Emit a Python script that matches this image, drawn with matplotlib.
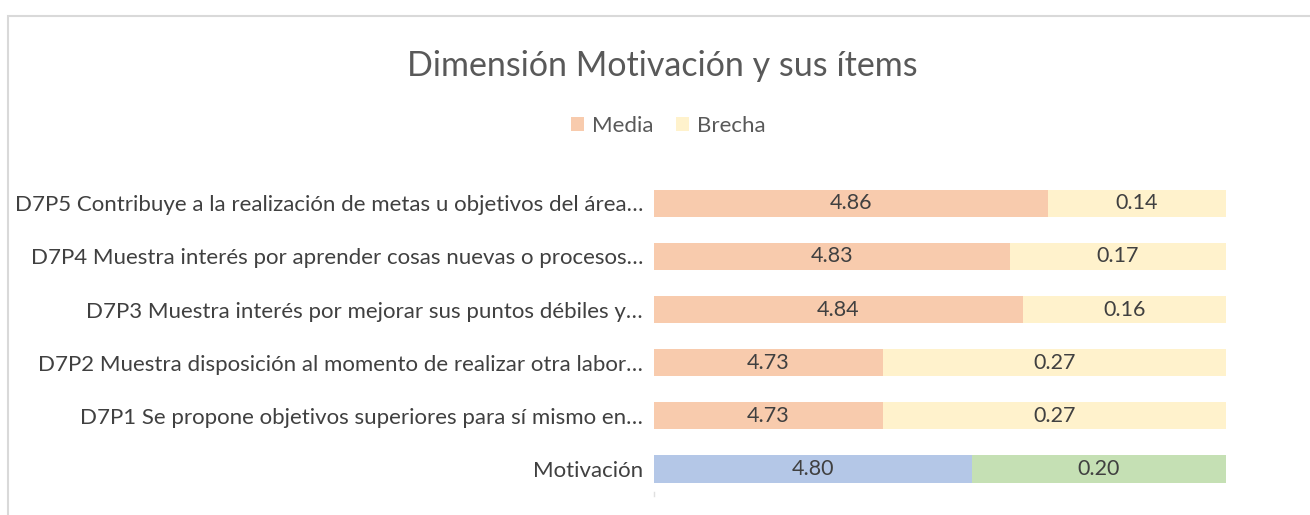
import matplotlib
matplotlib.use("Agg")
import matplotlib.pyplot as plt
from matplotlib.patches import Rectangle, Patch

# Data
categories = [
    "Motivación",
    "D7P1 Se propone objetivos superiores para sí mismo en…",
    "D7P2 Muestra disposición al momento de realizar otra labor…",
    "D7P3 Muestra interés por mejorar sus puntos débiles y…",
    "D7P4 Muestra interés por aprender cosas nuevas o procesos…",
    "D7P5 Contribuye a la realización de metas u objetivos del área…",
]
media = [4.80, 4.73, 4.73, 4.84, 4.83, 4.86]
brecha = [0.20, 0.27, 0.27, 0.16, 0.17, 0.14]
media_labels = ["4.80", "4.73", "4.73", "4.84", "4.83", "4.86"]
brecha_labels = ["0.20", "0.27", "0.27", "0.16", "0.17", "0.14"]

title = "Dimensión Motivación y sus ítems"
series_names = ["Media", "Brecha"]

c_media = "#F8CBAD"
c_brecha = "#FFF2CC"
c_media_total = "#B4C7E7"
c_brecha_total = "#C5E0B4"
text_col = "#404040"

plt.rcParams["font.family"] = ["Lato", "DejaVu Sans"]

W, H = 1310, 515
fig = plt.figure(figsize=(W / 100, H / 100), dpi=100)

# chart border
fig.patches.append(Rectangle((8 / W, -0.1), 1.2, 1 - 16 / H + 0.1, transform=fig.transFigure,
                             fill=False, edgecolor="#D9D9D9", linewidth=1.5))

ax_left, ax_right = 654, 1226
ax_top, ax_bot = 176.7, 495.6
ax = fig.add_axes([ax_left / W, 1 - ax_bot / H, (ax_right - ax_left) / W, (ax_bot - ax_top) / H])

xmin = 4.55
y = list(range(len(categories)))
left_base = [xmin] * len(categories)
mcols = [c_media_total] + [c_media] * (len(categories) - 1)
bcols = [c_brecha_total] + [c_brecha] * (len(categories) - 1)
mwidths = [m - xmin for m in media]
ax.barh(y, mwidths, left=left_base, height=0.51, color=mcols, linewidth=0)
ax.barh(y, brecha, left=media, height=0.51, color=bcols, linewidth=0)

for i in y:
    ax.text((xmin + media[i]) / 2, i, media_labels[i], ha="center", va="center",
            fontsize=15.5, color=text_col)
    ax.text(media[i] + brecha[i] / 2, i, brecha_labels[i], ha="center", va="center",
            fontsize=15.5, color=text_col)

ax.set_xlim(xmin, 5.0)
ax.set_ylim(-0.5, len(categories) - 0.5)
ax.set_yticks(y)
ax.set_yticklabels(categories, fontsize=16, color=text_col)
ax.tick_params(axis="y", length=0, pad=8)
ax.set_xticks([])
for s in ["top", "right", "bottom", "left"]:
    ax.spines[s].set_visible(False)
ax.plot([0, 0], [0, 0.01], transform=ax.transAxes, color="#E0E0E0", lw=1, clip_on=False)

fig.text(662 / W, 1 - 66 / H, title, ha="center", va="center", fontsize=24.5, color="#595959")

handles = [Patch(facecolor=c_media, edgecolor="none"), Patch(facecolor=c_brecha, edgecolor="none")]
fig.legend(handles, series_names, loc="center", bbox_to_anchor=(668 / W, 1 - 126 / H), ncol=2,
           frameon=False, fontsize=16, labelcolor="#595959", handlelength=0.6, handleheight=0.6,
           handletextpad=0.35, columnspacing=1.0)

fig.savefig("out.png", dpi=100)
